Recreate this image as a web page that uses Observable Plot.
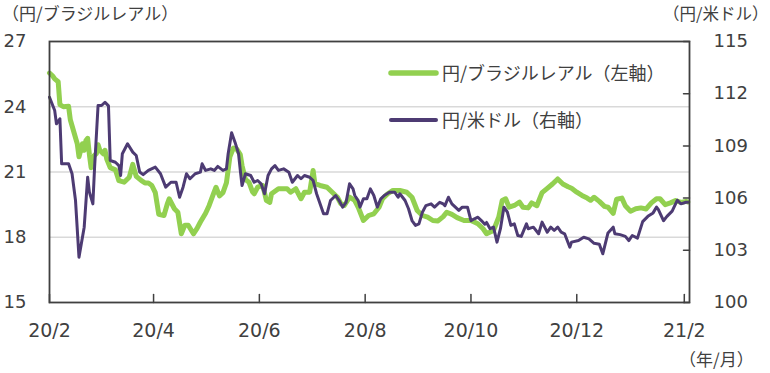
<!DOCTYPE html>
<html><head><meta charset="utf-8">
<script src="https://cdn.jsdelivr.net/npm/d3@7"></script>
<script src="https://cdn.jsdelivr.net/npm/@observablehq/plot@0.6"></script>
<style>
html,body{margin:0;padding:0;background:#fff;}
#chart{width:770px;height:373px;}
</style></head><body><div id="chart"></div>
<script>
const brlDates = ["2020-02-01","2020-02-03","2020-02-04","2020-02-06","2020-02-07","2020-02-09","2020-02-12","2020-02-13","2020-02-15","2020-02-17","2020-02-18","2020-02-20","2020-02-21","2020-02-22","2020-02-23","2020-02-24","2020-02-25","2020-02-26","2020-02-28","2020-02-29","2020-03-01","2020-03-03","2020-03-04","2020-03-05","2020-03-07","2020-03-10","2020-03-12","2020-03-15","2020-03-18","2020-03-20","2020-03-22","2020-03-25","2020-03-27","2020-03-29","2020-03-31","2020-04-02","2020-04-04","2020-04-07","2020-04-09","2020-04-10","2020-04-13","2020-04-15","2020-04-17","2020-04-19","2020-04-21","2020-04-24","2020-04-26","2020-04-28","2020-05-01","2020-05-03","2020-05-06","2020-05-07","2020-05-09","2020-05-11","2020-05-13","2020-05-14","2020-05-15","2020-05-17","2020-05-19","2020-05-21","2020-05-22","2020-05-24","2020-05-26","2020-05-28","2020-05-29","2020-05-31","2020-06-03","2020-06-05","2020-06-07","2020-06-08","2020-06-12","2020-06-17","2020-06-19","2020-06-22","2020-06-25","2020-06-27","2020-06-30","2020-07-02","2020-07-03","2020-07-06","2020-07-10","2020-07-13","2020-07-16","2020-07-18","2020-07-20","2020-07-23","2020-07-26","2020-07-28","2020-07-31","2020-08-03","2020-08-06","2020-08-09","2020-08-11","2020-08-14","2020-08-17","2020-08-21","2020-08-25","2020-08-28","2020-08-31","2020-09-03","2020-09-06","2020-09-09","2020-09-12","2020-09-15","2020-09-17","2020-09-20","2020-09-23","2020-09-27","2020-10-01","2020-10-05","2020-10-08","2020-10-10","2020-10-14","2020-10-17","2020-10-19","2020-10-21","2020-10-23","2020-10-26","2020-10-29","2020-10-31","2020-11-03","2020-11-05","2020-11-08","2020-11-11","2020-11-14","2020-11-17","2020-11-20","2020-11-23","2020-11-26","2020-11-28","2020-12-01","2020-12-04","2020-12-07","2020-12-09","2020-12-11","2020-12-14","2020-12-17","2020-12-19","2020-12-22","2020-12-24","2020-12-27","2020-12-29","2021-01-01","2021-01-04","2021-01-07","2021-01-10","2021-01-13","2021-01-16","2021-01-18","2021-01-21","2021-01-24","2021-01-27","2021-01-30","2021-02-02","2021-02-03"];
const brlValues = [25.55,25.4,25.28,25.15,24.1,24.0,24.02,23.4,22.85,22.3,21.7,22.3,22.0,22.45,22.55,21.8,21.2,21.7,21.84,22.25,22.0,21.84,22.0,21.6,21.2,21.1,20.6,20.53,20.76,21.35,20.8,20.6,20.5,20.5,20.38,20.05,19.05,19.0,19.55,19.77,19.31,19.15,18.16,18.55,18.55,18.16,18.4,18.7,19.1,19.45,20.1,20.3,19.9,20.05,20.5,21.1,21.7,22.1,22.05,21.8,21.3,20.65,20.53,20.1,20.0,20.3,20.38,19.7,19.6,20.0,20.23,20.23,20.07,20.23,19.77,20.07,20.07,21.07,20.46,20.38,20.3,20.07,19.84,19.54,19.46,19.84,19.69,19.38,18.77,19.0,19.08,19.38,19.77,20.0,20.15,20.15,20.07,19.84,19.23,19.0,18.92,18.77,18.75,18.95,19.15,19.05,18.9,18.77,18.77,18.62,18.39,18.16,18.31,18.92,19.69,19.77,19.38,19.46,19.61,19.38,19.35,19.58,19.45,20.05,20.25,20.45,20.68,20.45,20.32,20.25,20.07,19.92,19.8,19.7,19.84,19.65,19.42,19.38,19.1,19.75,19.8,19.45,19.2,19.31,19.35,19.3,19.58,19.77,19.77,19.5,19.58,19.69,19.6,19.65,19.62];
const usdDates = ["2020-02-01","2020-02-04","2020-02-05","2020-02-07","2020-02-08","2020-02-12","2020-02-14","2020-02-16","2020-02-18","2020-02-21","2020-02-23","2020-02-24","2020-02-26","2020-02-27","2020-02-29","2020-03-02","2020-03-04","2020-03-06","2020-03-07","2020-03-10","2020-03-12","2020-03-13","2020-03-14","2020-03-17","2020-03-20","2020-03-22","2020-03-24","2020-03-26","2020-03-29","2020-04-02","2020-04-05","2020-04-08","2020-04-11","2020-04-14","2020-04-16","2020-04-18","2020-04-20","2020-04-22","2020-04-25","2020-04-28","2020-04-29","2020-05-01","2020-05-04","2020-05-06","2020-05-08","2020-05-11","2020-05-13","2020-05-14","2020-05-16","2020-05-18","2020-05-20","2020-05-21","2020-05-22","2020-05-24","2020-05-27","2020-05-29","2020-05-31","2020-06-02","2020-06-04","2020-06-06","2020-06-08","2020-06-10","2020-06-12","2020-06-15","2020-06-18","2020-06-20","2020-06-23","2020-06-25","2020-06-27","2020-06-30","2020-07-02","2020-07-04","2020-07-06","2020-07-08","2020-07-10","2020-07-12","2020-07-15","2020-07-17","2020-07-19","2020-07-21","2020-07-23","2020-07-25","2020-07-26","2020-07-28","2020-07-29","2020-07-31","2020-08-02","2020-08-04","2020-08-06","2020-08-08","2020-08-10","2020-08-12","2020-08-15","2020-08-18","2020-08-20","2020-08-21","2020-08-24","2020-08-26","2020-08-28","2020-08-30","2020-09-01","2020-09-03","2020-09-05","2020-09-08","2020-09-10","2020-09-13","2020-09-15","2020-09-16","2020-09-18","2020-09-20","2020-09-22","2020-09-24","2020-09-26","2020-09-29","2020-10-01","2020-10-03","2020-10-05","2020-10-07","2020-10-09","2020-10-10","2020-10-12","2020-10-14","2020-10-16","2020-10-18","2020-10-20","2020-10-22","2020-10-24","2020-10-26","2020-10-28","2020-10-30","2020-11-02","2020-11-03","2020-11-06","2020-11-09","2020-11-11","2020-11-14","2020-11-16","2020-11-18","2020-11-20","2020-11-22","2020-11-24","2020-11-27","2020-11-28","2020-12-02","2020-12-05","2020-12-08","2020-12-11","2020-12-14","2020-12-16","2020-12-19","2020-12-22","2020-12-23","2020-12-26","2020-12-29","2020-12-31","2021-01-02","2021-01-05","2021-01-08","2021-01-11","2021-01-14","2021-01-16","2021-01-17","2021-01-20","2021-01-22","2021-01-25","2021-01-28","2021-01-30","2021-02-02","2021-02-03"];
const usdValues = [111.8,111.03,110.27,110.56,107.97,107.97,107.4,105.86,102.6,104.33,107.2,106.34,105.67,107.78,111.32,111.32,111.51,111.3,108.16,108.06,107.87,107.3,108.55,109.12,108.64,108.45,107.5,107.35,107.59,107.78,107.4,106.63,106.91,106.91,106.05,106.63,107.4,107.11,107.4,107.49,107.97,107.59,107.68,107.59,107.82,107.59,107.68,108.55,109.75,109.2,108.55,107.6,106.72,107.4,107.3,106.91,107.01,106.82,106.25,107.3,107.68,107.87,107.59,107.68,107.49,106.91,107.3,107.11,107.3,107.2,107.01,106.25,105.67,105.1,105.1,105.86,106.15,105.86,105.48,105.76,106.82,106.53,106.15,105.86,105.48,105.96,105.96,106.53,106.15,105.48,105.96,106.15,106.34,106.34,106.05,106.25,105.86,105.39,104.71,104.43,104.52,105.19,105.57,105.67,105.48,105.76,105.67,105.57,106.05,105.67,105.48,105.29,105.48,105.48,104.7,104.81,104.9,104.71,104.5,104.6,104.24,104.33,103.47,104.24,105.48,105.19,104.43,104.52,103.85,103.8,104.52,104.24,104.33,103.95,104.62,104.04,104.33,104.14,104.33,104.04,103.95,103.18,103.47,103.56,103.75,103.66,103.4,103.35,102.8,104.0,104.33,103.95,103.9,103.8,103.56,103.85,103.7,104.65,104.95,105.15,105.48,105.35,104.7,104.95,105.25,105.88,105.67,105.76,105.76];
const leftTicks = [15, 18, 21, 24, 27];
const rightTicks = [100, 103, 106, 109, 112, 115];
const xTickDates = ["2020-02-01","2020-04-01","2020-06-01","2020-08-01","2020-10-01","2020-12-01","2021-02-01"];
const xTickLabels = ["20/2","20/4","20/6","20/8","20/10","20/12","21/2"];
const seriesNames = ["円/ブラジルレアル（左軸）", "円/米ドル（右軸）"];
const axisTitles = ["（円/ブラジルレアル）", "（円/米ドル）", "（年/月）"];
const seriesColors = ["#92d050", "#4d3b73"];

const leftDomain = [15, 27], rightDomain = [100, 115];
const xDomain = [new Date("2020-02-01"), new Date("2021-02-04")];
const toLeft = v => leftDomain[0] + (v - rightDomain[0]) * (leftDomain[1] - leftDomain[0]) / (rightDomain[1] - rightDomain[0]);
const toRight = v => rightDomain[0] + (v - leftDomain[0]) * (rightDomain[1] - rightDomain[0]) / (leftDomain[1] - leftDomain[0]);

const brl = brlDates.map((d, i) => ({date: new Date(d), value: brlValues[i]}));
const usd = usdDates.map((d, i) => ({date: new Date(d), value: toLeft(usdValues[i])}));
const xTicks = xTickDates.map(d => new Date(d));
const labelByTime = new Map(xTicks.map((d, i) => [+d, xTickLabels[i]]));
const ink = "#404040";
const numFont = "'DejaVu Sans', 'Noto Sans CJK JP', sans-serif";
const jpFont = "'Noto Sans CJK JP', sans-serif";
const tickShape = {draw(context, l) { context.moveTo(0, 0); context.lineTo(0, -l); }};

const chart = Plot.plot({
  width: 770, height: 373,
  marginTop: 41, marginBottom: 71, marginLeft: 49, marginRight: 81,
  style: {fontFamily: numFont, fontSize: "18px", color: ink, background: "#fff", overflow: "visible"},
  x: {type: "utc", domain: xDomain},
  y: {domain: leftDomain},
  marks: [
    Plot.gridY(leftTicks.slice(1, -1), {stroke: "#d9d9d9", strokeOpacity: 1, strokeWidth: 1.5}),
    Plot.line(brl, {x: "date", y: "value", stroke: seriesColors[0], strokeWidth: 5, strokeLinejoin: "round", strokeLinecap: "round"}),
    Plot.line(usd, {x: "date", y: "value", stroke: seriesColors[1], strokeWidth: 3, strokeLinejoin: "round", strokeLinecap: "round"}),
    Plot.frame({stroke: ink, strokeWidth: 1.8}),
    // inward tick marks
    Plot.vector(xTicks, {x: d => d, y: leftDomain[0], length: 8, rotate: 0, anchor: "start", shape: tickShape, stroke: ink, strokeWidth: 1.5}),
    Plot.vector(rightTicks, {x: xDomain[1], y: d => toLeft(d), length: 6, rotate: -90, anchor: "start", shape: tickShape, stroke: ink, strokeWidth: 1.5}),
    Plot.axisY(leftTicks, {anchor: "left", tickSize: 0, tickPadding: 23, label: null, fill: ink}),
    Plot.axisY(rightTicks.map(toLeft), {anchor: "right", tickSize: 0, tickPadding: 24, label: null, fill: ink,
      tickFormat: d => String(Math.round(toRight(d)))}),
    Plot.axisX(xTicks, {anchor: "bottom", tickSize: 0, tickPadding: 21, label: null, fill: ink, fontSize: 19,
      tickFormat: d => labelByTime.get(+d)})
  ]
});

const svg = d3.select(chart);
// axis titles
const titleSpecs = [
  {text: axisTitles[0], x: 2, y: 20, size: 17},
  {text: axisTitles[1], x: 663, y: 20, size: 16.5},
  {text: axisTitles[2], x: 679, y: 366, size: 17}
];
svg.append("g").attr("text-anchor", "start").selectAll("text").data(titleSpecs).join("text")
  .attr("x", d => d.x).attr("y", d => d.y)
  .attr("text-anchor", "start")
  .attr("font-family", jpFont).attr("font-size", d => d.size).attr("fill", ink)
  .text(d => d.text);
// legend
const legendSpecs = [
  {name: seriesNames[0], color: seriesColors[0], w: 5.5, y: 73},
  {name: seriesNames[1], color: seriesColors[1], w: 4, y: 120}
];
const lg = svg.append("g").attr("text-anchor", "start");
lg.selectAll("line").data(legendSpecs).join("line")
  .attr("x1", 391).attr("x2", 436).attr("y1", d => d.y).attr("y2", d => d.y)
  .attr("stroke", d => d.color).attr("stroke-width", d => d.w).attr("stroke-linecap", "round");
lg.selectAll("text").data(legendSpecs).join("text")
  .attr("x", 442).attr("y", d => d.y + 7)
  .attr("text-anchor", "start")
  .attr("font-family", jpFont).attr("font-size", 18).attr("fill", ink)
  .text(d => d.name);

document.getElementById("chart").appendChild(chart);
</script>
</body></html>
